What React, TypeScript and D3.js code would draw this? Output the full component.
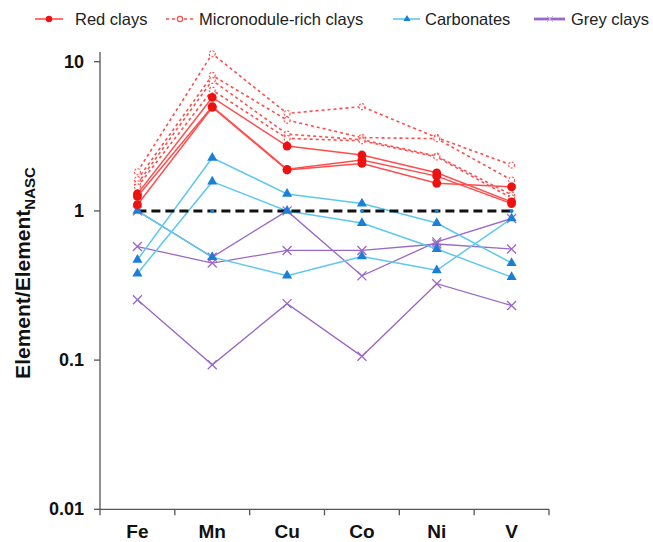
import * as d3 from "d3";

const elements = ["Fe", "Mn", "Cu", "Co", "Ni", "V"];
const yTicks = [0.01, 0.1, 1, 10];
const yTickLabels = ["0.01", "0.1", "1", "10"];

// each row = one sample, values in element order
const redClays = [
  [1.3, 5.76, 2.72, 2.37, 1.8, 1.15],
  [1.25, 5.0, 1.9, 2.19, 1.71, 1.12],
  [1.1, 4.95, 1.88, 2.08, 1.53, 1.45],
];
const micronoduleClays = [
  [1.83, 11.3, 4.5, 5.0, 3.1, 2.03],
  [1.62, 8.1, 4.06, 3.1, 3.05, 1.61],
  [1.52, 7.5, 3.27, 3.0, 2.33, 1.28],
  [1.45, 6.45, 3.06, 2.95, 2.3, 1.22],
];
const carbonates = [
  [0.47, 2.27, 1.3, 1.12, 0.83, 0.447],
  [0.38, 1.57, 1.0, 0.83, 0.555, 0.36],
  [1.0, 0.49, 0.368, 0.495, 0.4, 0.89],
];
const greyClays = [
  [1.0, 0.49, 1.0, 0.367, 0.62, 0.89],
  [0.577, 0.447, 0.543, 0.543, 0.6, 0.555],
  [0.254, 0.093, 0.239, 0.106, 0.325, 0.232],
];
const nascLine = [1, 1, 1, 1, 1, 1];

const FONT = "'Liberation Sans', Arial, sans-serif";
const RED_LINE = "#ff4d4d";
const RED_MARK = "#ee1111";
const BLUE_LINE = "#5cc8f0";
const BLUE_MARK = "#1c7fd6";
const PURPLE = "#9a68c6";

const x = d3.scaleBand<string>().domain(elements).range([100, 549]);
const cx = (d: string) => (x(d) as number) + x.bandwidth() / 2;
const y = d3.scaleLog().domain([0.01, 10]).range([509.3, 61.7]);
const yTop = y(11.6);

const line = d3
  .line<number>()
  .x((_, i) => cx(elements[i]))
  .y((d) => y(d));

const tri = d3.symbol().type(d3.symbolTriangle).size(44)() as string;

function Cross({ px, py, s = 4.5, color = PURPLE, w = 1.3 }: any) {
  return (
    <path
      d={`M${px - s},${py - s}L${px + s},${py + s}M${px - s},${py + s}L${px + s},${py - s}`}
      stroke={color}
      strokeWidth={w}
      fill="none"
    />
  );
}

export default function App() {
  return (
    <svg
      width={653}
      height={542}
      style={{ position: "absolute", left: 0, top: 0, background: "#fff" }}
      fontFamily={FONT}
    >
      {/* legend */}
      <g fontSize={16.5} fill="#222">
        <line x1={35} x2={63} y1={19} y2={19} stroke={RED_LINE} strokeWidth={1.6} />
        <circle cx={49} cy={19} r={3.2} fill={RED_MARK} />
        <text x={75} y={25}>Red clays</text>
        <line x1={166} x2={193} y1={19} y2={19} stroke={RED_LINE} strokeWidth={1.6} strokeDasharray="3,3" />
        <circle cx={180} cy={19} r={2.6} fill="#fff" stroke={RED_LINE} strokeWidth={1.2} />
        <text x={199} y={25}>Micronodule-rich clays</text>
        <line x1={393} x2={420} y1={19} y2={19} stroke={BLUE_LINE} strokeWidth={1.6} />
        <path d={d3.symbol().type(d3.symbolTriangle).size(22)() as string} transform="translate(407,19)" fill={BLUE_MARK} />
        <text x={425} y={25}>Carbonates</text>
        <line x1={534} x2={565} y1={19} y2={19} stroke={PURPLE} strokeWidth={2.8} />
        <Cross px={550} py={19} s={3} w={1} color="#c9a8e6" />
        <text x={571} y={25}>Grey clays</text>
      </g>

      {/* axes */}
      <line x1={100} x2={100} y1={yTop} y2={y(0.01)} stroke="#555" strokeWidth={1.3} />
      <line x1={100} x2={549} y1={y(0.01)} y2={y(0.01)} stroke="#555" strokeWidth={1.3} />
      {yTicks.map((t, i) => (
        <g key={t}>
          <line x1={94} x2={100} y1={y(t)} y2={y(t)} stroke="#555" strokeWidth={1.3} />
          <text x={84} y={y(t) + 6} textAnchor="end" fontSize={18} fontWeight="bold" fill="#111">
            {yTickLabels[i]}
          </text>
        </g>
      ))}
      {[...elements.map((e) => x(e) as number), 549].map((px, i) => (
        <line key={i} x1={px} x2={px} y1={y(0.01)} y2={y(0.01) + 6} stroke="#555" strokeWidth={1.3} />
      ))}
      {elements.map((e) => (
        <text key={e} x={cx(e)} y={538} textAnchor="middle" fontSize={19} fontWeight="bold" fill="#111">
          {e}
        </text>
      ))}
      <text transform="translate(30,273) rotate(-90)" textAnchor="middle" fontSize={21} fontWeight="bold" fill="#111">
        Element/Element
        <tspan fontSize={15} dy={5}>NASC</tspan>
      </text>

      {/* grey clays */}
      {greyClays.map((s, k) => (
        <g key={"g" + k}>
          <path d={line(s) as string} fill="none" stroke={PURPLE} strokeWidth={1.3} />
          {s.map((v, i) => (
            <Cross key={i} px={cx(elements[i])} py={y(v)} />
          ))}
        </g>
      ))}

      {/* carbonates */}
      {carbonates.map((s, k) => (
        <path key={"cl" + k} d={line(s) as string} fill="none" stroke={BLUE_LINE} strokeWidth={1.5} />
      ))}

      {/* NASC reference */}
      <path d={line(nascLine) as string} fill="none" stroke="#111" strokeWidth={3} strokeDasharray="9,5" />
      {nascLine.map((v, i) => (
        <circle key={"n" + i} cx={cx(elements[i])} cy={y(v)} r={2} fill={BLUE_MARK} />
      ))}

      {carbonates.map((s, k) => (
        <g key={"cm" + k}>
          {s.map((v, i) => (
            <path key={i} d={tri} transform={`translate(${cx(elements[i])},${y(v)})`} fill={BLUE_MARK} />
          ))}
        </g>
      ))}

      {/* micronodule-rich clays */}
      {micronoduleClays.map((s, k) => (
        <g key={"m" + k}>
          <path d={line(s) as string} fill="none" stroke={RED_LINE} strokeWidth={1.6} strokeDasharray="3,3" />
          {s.map((v, i) => (
            <circle key={i} cx={cx(elements[i])} cy={y(v)} r={3} fill="#fff" stroke={RED_LINE} strokeWidth={1.1} strokeDasharray="2,1.5" />
          ))}
        </g>
      ))}

      {/* red clays */}
      {redClays.map((s, k) => (
        <g key={"r" + k}>
          <path d={line(s) as string} fill="none" stroke={RED_LINE} strokeWidth={1.5} />
          {s.map((v, i) => (
            <circle key={i} cx={cx(elements[i])} cy={y(v)} r={4.4} fill={RED_MARK} />
          ))}
        </g>
      ))}
    </svg>
  );
}
